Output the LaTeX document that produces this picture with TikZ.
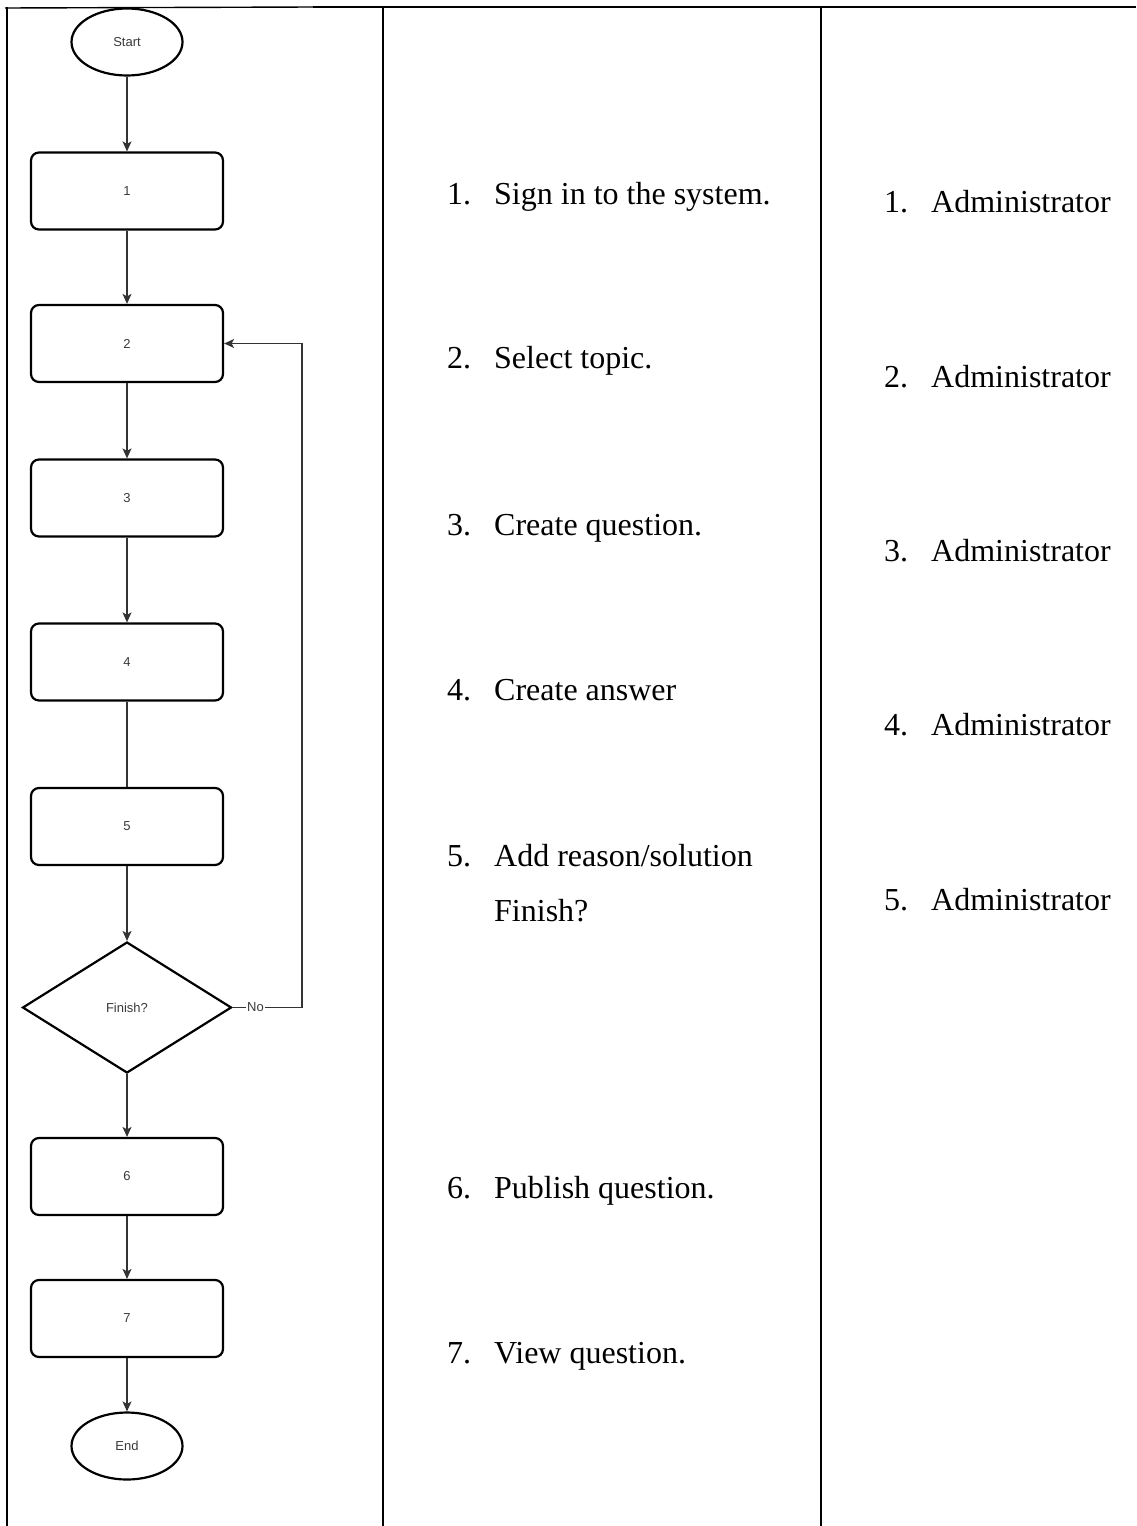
\documentclass[tikz,border=0pt]{standalone}
\usepackage{fontspec}
\setmainfont{Liberation Serif}
\newfontfamily\flowfont{Liberation Sans}
\usetikzlibrary{shapes.geometric,arrows.meta}
\definecolor{conncol}{HTML}{333333}
\definecolor{flowtext}{HTML}{3A3A3A}
\tikzset{
  tableline/.style={line width=2.2pt,black},
  flowlabel/.style={font=\flowfont\fontsize{13}{15}\selectfont,text=flowtext},
  procbox/.style={draw=black,line width=2.2pt,rounded corners=8pt,minimum width=192pt,minimum height=77pt,inner sep=0pt,flowlabel},
  term/.style={draw=black,line width=2.2pt,ellipse,minimum width=111pt,minimum height=67pt,inner sep=0pt,flowlabel},
  decide/.style={draw=black,line width=2.2pt,diamond,aspect=1.6,minimum width=209pt,minimum height=131pt,inner sep=0pt,flowlabel},
  conn/.style={draw=conncol,line width=1.2pt},
  arr/.style={conn,-{Stealth[length=10pt,width=9pt,inset=2.5pt]}},
  celltext/.style={anchor=base west,inner sep=0pt,font=\fontsize{32}{38}\selectfont},
}
\begin{document}
\begin{tikzpicture}[x=1pt,y=-1pt]
\useasboundingbox[fill=white] (0,0) rectangle (1136,1526);
% table lines
\coordinate (tm) at (313,7);
\coordinate (tr) at (1136,7);
\draw[line width=1.4pt] (5,8) -- (tm);
\draw[tableline] (tm) -- (tr);
\draw[tableline] (7,7) -- (7,1526);
\draw[tableline] (383,7) -- (383,1526);
\draw[tableline] (821,7) -- (821,1526);
% flowchart
\node[term] (start) at (127,42) {Start};
\node[procbox] (b1) at (127,191) {1};
\node[procbox] (b2) at (127,343.5) {2};
\node[procbox] (b3) at (127,498) {3};
\node[procbox] (b4) at (127,662) {4};
\node[procbox] (b5) at (127,826.5) {5};
\node[decide] (dec) at (127,1007.5) {Finish?};
\node[procbox] (b6) at (127,1176.5) {6};
\node[procbox] (b7) at (127,1318.5) {7};
\node[term] (end) at (127,1446) {End};
\draw[arr] (start) -- (b1);
\draw[arr] (b1) -- (b2);
\draw[arr] (b2) -- (b3);
\draw[arr] (b3) -- (b4);
\draw[conn] (b4) -- (b5);
\draw[arr] (b5) -- (dec);
\draw[arr] (dec) -- (b6);
\draw[arr] (b6) -- (b7);
\draw[arr] (b7) -- (end);
\coordinate (lp1) at (302,1007.5);
\coordinate (lp2) at (302,343.5);
\draw[arr] (dec.east) -- node[pos=0.33,fill=white,inner sep=1pt,flowlabel] (nolab) {No} (lp1) -- (lp2) -- (b2.east);
% middle column
\node[celltext] (m1n) at (447,204) {1.};
\node[celltext] (m1) at (494,204) {Sign in to the system.};
\node[celltext] (m2n) at (447,368) {2.};
\node[celltext] (m2) at (494,368) {Select topic.};
\node[celltext] (m3n) at (447,535) {3.};
\node[celltext] (m3) at (494,535) {Create question.};
\node[celltext] (m4n) at (447,700) {4.};
\node[celltext] (m4) at (494,700) {Create answer};
\node[celltext] (m5n) at (447,866) {5.};
\node[celltext] (m5) at (494,866) {Add reason/solution};
\node[celltext] (m5b) at (494,921) {Finish?};
\node[celltext] (m6n) at (447,1198) {6.};
\node[celltext] (m6) at (494,1198) {Publish question.};
\node[celltext] (m7n) at (447,1363) {7.};
\node[celltext] (m7) at (494,1363) {View question.};
% right column
\node[celltext] (r1n) at (884,212) {1.};
\node[celltext] (r1) at (931,212) {Administrator};
\node[celltext] (r2n) at (884,387) {2.};
\node[celltext] (r2) at (931,387) {Administrator};
\node[celltext] (r3n) at (884,561) {3.};
\node[celltext] (r3) at (931,561) {Administrator};
\node[celltext] (r4n) at (884,735) {4.};
\node[celltext] (r4) at (931,735) {Administrator};
\node[celltext] (r5n) at (884,910) {5.};
\node[celltext] (r5) at (931,910) {Administrator};
\end{tikzpicture}
\end{document}
